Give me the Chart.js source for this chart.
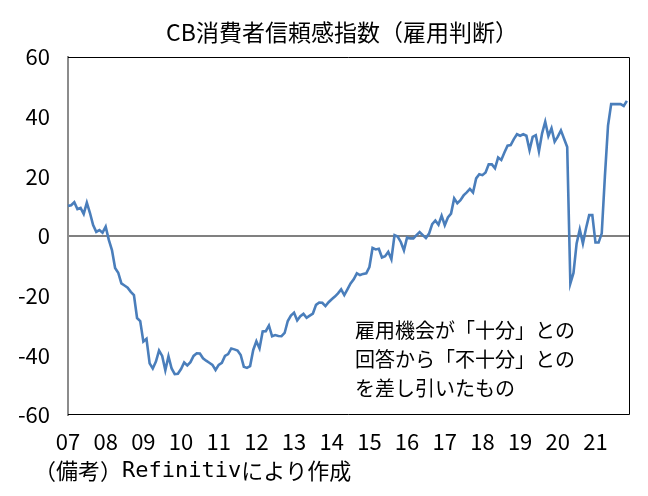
<!DOCTYPE html>
<html>
<head>
<meta charset="utf-8">
<script src="https://cdn.jsdelivr.net/npm/chart.js@4"></script>
<style>
  html, body { margin: 0; padding: 0; background: #fff; }
  canvas { display: block; }
</style>
</head>
<body>
<canvas id="chart" width="648" height="496"></canvas>
<script>
// 年ラベル（各年1月の位置に表示）
const yearLabels = ['07', '08', '09', '10', '11', '12', '13', '14', '15', '16', '17', '18', '19', '20', '21'];

// CB消費者信頼感指数（雇用判断）月次 2007/1～2021/11
const laborDiff = [
  10.1, 10.3, 11.3, 9.0, 9.4, 7.4, 11.2, 7.7, 3.7, 1.4, 2.0, 1.1,               // 2007
  3.1, -1.3, -4.7, -10.7, -12.3, -15.9, -16.6, -17.3, -18.7, -19.8, -27.5, -28.5, // 2008
  -35.4, -34.5, -42.7, -44.4, -42.1, -38.4, -40.2, -45.0, -40.3, -44.4, -46.3, -46.2, // 2009
  -44.6, -42.4, -43.4, -42.3, -40.2, -39.3, -39.4, -41.0, -41.8, -42.5, -43.2, -44.9, // 2010
  -43.2, -42.5, -40.2, -39.6, -37.7, -38.0, -38.4, -39.9, -43.8, -44.2, -43.6, -38.2, // 2011
  -35.3, -37.7, -32.0, -31.9, -30.0, -33.6, -33.2, -33.5, -33.6, -32.5, -28.5, -26.7, // 2012
  -25.7, -28.3, -26.9, -26.1, -27.4, -26.7, -26.0, -23.1, -22.3, -22.4, -23.5, -22.2, // 2013
  -21.2, -20.3, -19.2, -17.9, -19.8, -17.9, -15.9, -14.5, -12.5, -13.1, -12.7, -12.5, // 2014
  -10.4, -4.0, -4.5, -4.3, -7.2, -6.8, -5.3, -7.8, 0.3, -0.2, -2.0, -4.8,          // 2015
  -0.5, -0.8, -0.8, 0.3, 1.3, 0.3, -0.7, 0.8, 4.0, 5.2, 3.8, 6.8,                 // 2016
  3.6, 6.2, 7.5, 12.6, 11.0, 12.0, 13.6, 14.6, 15.8, 14.6, 19.3, 20.7,            // 2017
  20.4, 21.3, 24.0, 24.0, 22.7, 26.3, 25.5, 28.0, 30.3, 30.5, 32.5, 34.1,         // 2018
  33.6, 34.1, 33.6, 28.8, 33.2, 33.8, 28.4, 34.4, 38.3, 33.5, 36.1, 31.6,         // 2019
  33.3, 35.4, 32.6, 29.8, -15.9, -12.4, -2.5, 2.2, -2.5, 2.6, 7.0, 7.0,          // 2020
  -2.2, -2.2, 0.9, 19.9, 37.0, 44.2, 44.2, 44.2, 44.2, 43.6, 45.3                // 2021
];

// Y軸目盛
const yMin = -60;
const yMax = 60;
const yStep = 20;

const titleText = 'CB消費者信頼感指数（雇用判断）';
const noteLines = ['雇用機会が「十分」との', '回答から「不十分」との', 'を差し引いたもの'];

// 月ラベル（年×12か月）
const monthLabels = [];
yearLabels.forEach(y => {
  for (let m = 1; m <= 12; m++) monthLabels.push(y + '/' + m);
});

const jpFont = '"Noto Sans CJK JP", "Noto Sans", sans-serif';

// 枠線・タイトル・注記・出所
const decorations = {
  id: 'decorations',
  afterDraw(chart) {
    const { ctx, chartArea } = chart;
    ctx.save();
    // 枠
    ctx.strokeStyle = '#000';
    ctx.lineWidth = 1;
    ctx.beginPath();
    ctx.moveTo(chartArea.left, chartArea.top + 0.5);
    ctx.lineTo(chartArea.right - 0.5, chartArea.top + 0.5);
    ctx.lineTo(chartArea.right - 0.5, chartArea.bottom - 0.5);
    ctx.lineTo(chartArea.left, chartArea.bottom - 0.5);
    ctx.stroke();

    ctx.fillStyle = '#000';
    ctx.textBaseline = 'middle';

    // タイトル
    ctx.font = '23px ' + jpFont;
    ctx.textAlign = 'center';
    ctx.fillText(titleText, 342, 32);

    // 注記
    ctx.font = '20px ' + jpFont;
    ctx.textAlign = 'left';
    noteLines.forEach((t, i) => ctx.fillText(t, 355, 330 + i * 29));

    // 出所
    let x = 34;
    ctx.font = '22px ' + jpFont;
    ctx.fillText('（備考）', x, 471);
    x += ctx.measureText('（備考）').width;
    ctx.font = '22px "DejaVu Sans Mono", monospace';
    ctx.fillText('Refinitiv', x, 471);
    x += ctx.measureText('Refinitiv').width;
    ctx.font = '22px ' + jpFont;
    ctx.fillText('により作成', x, 471);
    ctx.restore();
  }
};

new Chart(document.getElementById('chart'), {
  type: 'line',
  data: {
    labels: monthLabels,
    datasets: [{
      data: laborDiff,
      borderColor: '#4a7ebb',
      borderWidth: 2.6,
      pointRadius: 0,
      tension: 0,
      fill: false
    }]
  },
  options: {
    responsive: false,
    animation: false,
    devicePixelRatio: 1,
    layout: { padding: { top: 57, right: 18, left: 0, bottom: 0 } },
    plugins: {
      legend: { display: false },
      title: { display: false },
      tooltip: { enabled: false }
    },
    scales: {
      x: {
        type: 'category',
        offset: false,
        grid: { display: false, drawTicks: false },
        border: { display: false },
        ticks: {
          autoSkip: false,
          maxRotation: 0,
          minRotation: 0,
          padding: 13,
          color: '#000',
          font: { family: jpFont, size: 22 },
          callback: (val, idx) => (idx % 12 === 0 ? yearLabels[idx / 12] : '')
        },
        afterFit: scale => { scale.height = 81; }
      },
      y: {
        min: yMin,
        max: yMax,
        grid: {
          drawTicks: false,
          lineWidth: 2,
          color: c => (c.tick && c.tick.value === 0 ? '#808080' : 'rgba(0,0,0,0)')
        },
        border: { display: true, color: '#8c8c8c', width: 2 },
        ticks: {
          stepSize: yStep,
          padding: 18,
          color: '#000',
          font: { family: jpFont, size: 22 },
          callback: v => String(v)
        },
        afterFit: scale => { scale.width = 68; }
      }
    }
  },
  plugins: [decorations]
});
</script>
</body>
</html>
